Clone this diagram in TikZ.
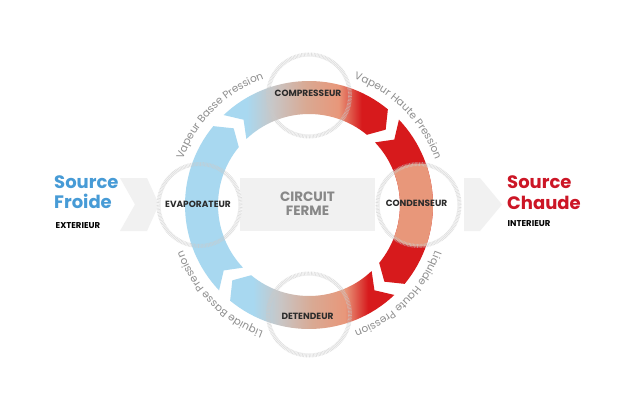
\documentclass[tikz,border=0pt]{standalone}
\usepackage{fontspec}
\setmainfont{Poppins}
\usetikzlibrary{decorations.text}
\definecolor{lblue}{HTML}{A8D8F0}
\definecolor{graybeige}{HTML}{C8C6C6}
\definecolor{beige}{HTML}{D9A993}
\definecolor{salmon}{HTML}{E8977A}
\definecolor{hred}{HTML}{D71A1C}
\definecolor{froid}{HTML}{479BD6}
\definecolor{chaud}{HTML}{CC1626}
\definecolor{bandgray}{HTML}{F1F1F1}
\definecolor{ringgray}{HTML}{CACACA}
\definecolor{arctext}{HTML}{8E8E8E}
\definecolor{labeldark}{HTML}{2B2B2B}
\definecolor{circtext}{HTML}{888888}
\pgfdeclarehorizontalshading{hshade}{100bp}{color(0bp)=(lblue); color(25bp)=(lblue); color(32bp)=(lblue); color(40bp)=(graybeige); color(50bp)=(beige); color(60bp)=(salmon); color(67bp)=(hred); color(100bp)=(hred)}
\newcommand\arcfont{\fontsize{10.5}{12}\selectfont}
\begin{document}
\begin{tikzpicture}[x=1pt,y=-1pt,
  bigtitle/.style={font=\fontsize{18}{20}\selectfont\bfseries, anchor=base west, inner sep=0pt},
  subtitle/.style={font=\fontsize{8.5}{9}\selectfont\bfseries, text=black, anchor=base west, inner sep=0pt},
  unitlabel/.style={font=\fontsize{9}{10}\selectfont\bfseries, text=labeldark, inner sep=0pt},
  unitcircle/.style={draw=ringgray, line width=4pt, dash pattern=on 0.7pt off 0.7pt, opacity=0.6},
  arclabel/.style={decorate, decoration={text along path, text align=center, text color=arctext, text={|\arcfont|#1}}},
]
\useasboundingbox (0,0) rectangle (630,410);
\fill[white] (0,0) rectangle (630,410);

% background band
\fill[bandgray] (120,178) -- (147,178) -- (159,204.5) -- (147,231) -- (120,231) -- (135,204.5) -- cycle;
\fill[bandgray] (240,178) rectangle (375,231);
\fill[bandgray] (464,178) -- (480,178) -- (502,204.5) -- (480,231) -- (464,231) -- cycle;

\begin{scope}[shift={(309,205)}, y=1pt]
  \def\Ro{124}\def\Ri{91}\def\Rm{107.5}
  % white discs of the four units
  \foreach \a in {0,90,180,270} \fill[white] (\a:109.5) circle[radius=43];
  % left segment (blue)
  \fill[lblue] (223.5:\Ro) arc[start angle=223.5, end angle=140.5, radius=\Ro] -- (134.5:\Rm) -- (140.5:\Ri) arc[start angle=140.5, end angle=223.5, radius=\Ri] -- (217.5:\Rm) -- cycle;
  % top segment
  \shade[shading=hshade] (133.5:\Ro) arc[start angle=133.5, end angle=50.5, radius=\Ro] -- (44.5:\Rm) -- (50.5:\Ri) arc[start angle=50.5, end angle=133.5, radius=\Ri] -- (127.5:\Rm) -- cycle;
  % right segment
  \fill[hred] (43.5:\Ro) arc[start angle=43.5, end angle=-39.5, radius=\Ro] -- (-45.5:\Rm) -- (-39.5:\Ri) arc[start angle=-39.5, end angle=43.5, radius=\Ri] -- (37.5:\Rm) -- cycle;
  \begin{scope}
    \clip (43.5:\Ro) arc[start angle=43.5, end angle=-39.5, radius=\Ro] -- (-45.5:\Rm) -- (-39.5:\Ri) arc[start angle=-39.5, end angle=43.5, radius=\Ri] -- (37.5:\Rm) -- cycle;
    \fill[salmon] (0:109.5) circle[radius=41.5];
  \end{scope}
  % bottom segment
  \shade[shading=hshade] (-46.5:\Ro) arc[start angle=-46.5, end angle=-129.5, radius=\Ro] -- (-135.5:\Rm) -- (-129.5:\Ri) arc[start angle=-129.5, end angle=-46.5, radius=\Ri] -- (-52.5:\Rm) -- cycle;
  % unit circle outlines
  \foreach \a in {0,90,180,270} \draw[unitcircle] (\a:109.5) circle[radius=41];
  % texts along the ring
  \path[arclabel={Vapeur Basse Pression}] (175:134) arc[start angle=175, end angle=95, radius=134];
  \path[arclabel={Vapeur Haute Pression}] (85:134) arc[start angle=85, end angle=5, radius=134];
  \path[arclabel={Liquide Haute Pression}] (-5:134) arc[start angle=-5, end angle=-85, radius=134];
  \path[arclabel={Liquide Basse Pression}] (-95:134) arc[start angle=-95, end angle=-175, radius=134];
\end{scope}

% unit labels
\node[unitlabel] (comp) at (308,93.5) {COMPRESSEUR};
\node[unitlabel] (evap) at (198,204.5) {EVAPORATEUR};
\node[unitlabel] (cond) at (416.5,203) {CONDENSEUR};
\node[unitlabel] (det) at (307.5,316) {DETENDEUR};
\node[font=\fontsize{13.5}{14}\selectfont\bfseries, text=circtext, align=center, inner sep=0pt] (circ) at (307.5,204) {CIRCUIT\\FERME};

% sources
\node[bigtitle, text=froid] (sf1) at (54,188.5) {Source};
\node[bigtitle, text=froid] (sf2) at (54,208.5) {Froide};
\node[subtitle] (ext) at (55.5,228) {EXTERIEUR};
\node[bigtitle, text=chaud] (sc1) at (507,188.5) {Source};
\node[bigtitle, text=chaud] (sc2) at (507,209.5) {Chaude};
\node[subtitle] (int) at (507.5,226.5) {INTERIEUR};
\end{tikzpicture}
\end{document}
